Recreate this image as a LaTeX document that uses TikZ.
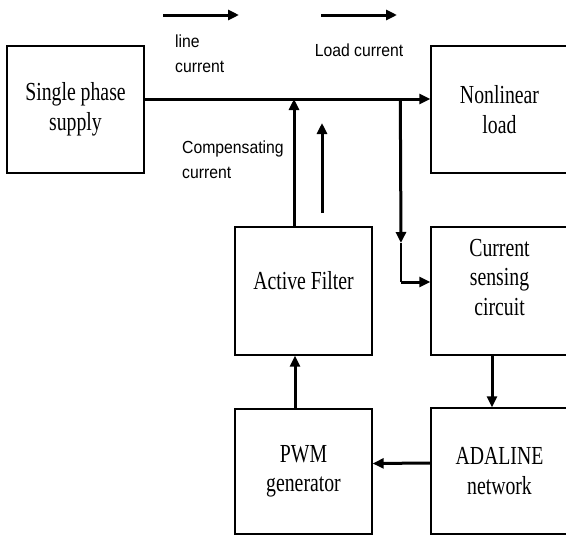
\documentclass[tikz,border=0pt]{standalone}
\usepackage{fontspec}
\newfontfamily\boxfont{Liberation Serif}[FakeStretch=0.76]
\newfontfamily\notefont{Liberation Sans}[FakeStretch=0.9]
\usetikzlibrary{arrows.meta}

\begin{document}
\begin{tikzpicture}[x=1pt,y=-1pt,>={Triangle[length=11pt,width=10pt]},
  blk/.style={draw,line width=1.4pt,minimum width=137pt,inner sep=0pt,
    align=center,font=\boxfont\fontsize{26}{29.5}\selectfont},
  note/.style={align=left,inner sep=0pt,
    font=\notefont\fontsize{17.5}{25}\selectfont},
  flow/.style={line width=3pt}]
\useasboundingbox (0,0) rectangle (566,536);
% blocks (right column runs past the page edge)
\node[blk,minimum height=127pt] (sps) at (75.5,109.5) {Single phase\\supply};
\node[blk,minimum height=127pt] (nll) at (499.5,109.5) {Nonlinear\\load};
\node[blk,minimum height=128pt,text depth=22pt] (af) at (303.5,291) {Active Filter};
\node[blk,minimum height=128pt,text depth=28pt] (cs) at (499.5,291) {Current\\sensing\\circuit};
\node[blk,minimum height=125pt] (pwm) at (303.5,471.5) {PWM\\generator};
\node[blk,minimum height=126pt] (ada) at (499.5,471) {ADALINE\\network};
% labels
\node[note,anchor=west] (lin) at (175,53.5) {line\\current};
\node[note] (ldc) at (359,50) {Load current};
\node[note,anchor=west] (cmp) at (182,159.5) {Compensating\\current};
% free arrow ends
\coordinate (lc0) at (163,15);
\coordinate (lc1) at (239,15);
\coordinate (ld0) at (321,15);
\coordinate (ld1) at (397,15);
\coordinate (cc0) at (322,213);
\coordinate (cc1) at (322,123);
\coordinate (tap) at ([yshift=10.5pt]sps.east);
\coordinate (br) at ([xshift=-30pt]nll.west |- tap);
\coordinate (brk) at (401,243);
\coordinate (bre) at (401,282);
% direction arrows
\draw[flow,->] (lc0) -- (lc1);
\draw[flow,->] (ld0) -- (ld1);
\draw[flow,->] (cc0) -- (cc1);
% main line and branches
\draw[flow,->] (tap) -- ([yshift=10.5pt]nll.west);
\draw[flow,->] ([xshift=-9.5pt]af.north) -- ([xshift=-9.5pt]af.north |- tap);
\draw[flow,->] (br) -- (brk);
\draw[line width=1.6pt] (brk) -- (bre);
\draw[flow,->] (bre) -- ([yshift=9pt]cs.west);
% control loop
\draw[flow,->] ([xshift=-7.5pt]cs.south) -- ([xshift=-7.5pt]ada.north);
\draw[flow,->] ([yshift=8pt]ada.west) -- ([yshift=8pt]pwm.east);
\draw[flow,->] ([xshift=-8.5pt]pwm.north) -- ([xshift=-8.5pt]af.south);
\end{tikzpicture}
\end{document}
